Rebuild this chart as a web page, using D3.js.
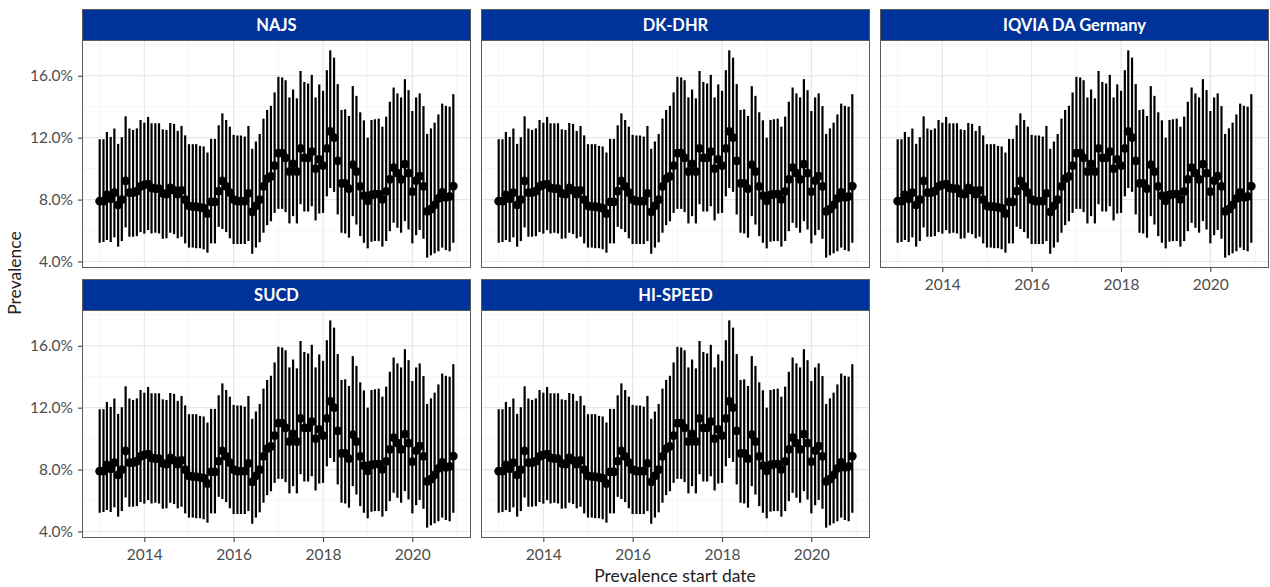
<!DOCTYPE html>
<html>
<head>
<meta charset="utf-8">
<script src="https://cdn.jsdelivr.net/npm/d3@7/dist/d3.min.js"></script>
<style>
body{margin:0;background:#fff;}
svg{display:block;font-family:Lato,"Open Sans",sans-serif;}
</style>
</head>
<body>
<div id="chart"></div>
<script>
// facets, all five show the same monthly series
var facets=['NAJS','DK-DHR','IQVIA DA Germany','SUCD','HI-SPEED'];
var firstMonth='2013-01', nMonths=96;
// prevalence (%) point estimate and interval
var prevMean=[7.9,7.9,8.3,8.05,8.45,7.65,8.0,9.2,8.45,8.45,8.55,8.85,
  8.95,9.0,8.75,8.7,8.7,8.4,8.35,8.75,8.6,8.35,8.6,8.0,
  7.6,7.55,7.55,7.5,7.45,7.1,7.85,7.85,8.55,9.2,8.85,8.45,
  8.0,7.9,7.9,7.9,8.4,7.2,7.6,8.0,8.85,9.35,9.5,10.2,
  11.0,11.0,10.7,9.8,10.3,9.8,11.3,10.7,10.7,11.1,10.0,10.6,
  10.2,11.3,12.4,12.0,10.5,9.05,9.05,8.7,10.25,9.8,8.85,8.25,
  7.92,8.3,8.35,8.35,8.02,8.53,9.3,10.07,9.71,9.3,10.29,9.71,
  8.52,9.22,9.52,8.86,7.24,7.38,7.65,8.07,8.47,8.15,8.2,8.87];
var prevUpper=[11.9,11.9,12.37,12.05,12.59,11.6,12.03,13.38,12.59,12.5,12.6,13.14,
  12.97,13.34,12.93,12.93,12.93,12.54,12.5,12.95,12.89,12.44,12.76,12.15,
  11.58,11.58,11.58,11.47,11.43,11.04,11.92,11.92,12.8,13.57,13.14,12.71,
  12.18,12.14,12.14,12.07,12.76,11.28,11.75,12.24,13.23,13.79,14.06,14.92,
  15.93,15.89,15.71,14.6,15.11,14.54,16.31,15.6,15.5,16.06,14.6,15.44,
  15.03,16.36,17.64,17.17,15.46,13.79,13.83,13.4,15.33,14.7,13.64,13.12,
  12.0,13.14,13.19,13.23,12.71,13.36,14.32,15.24,14.86,14.6,15.78,15.07,
  13.72,14.6,14.86,14.04,12.24,12.6,12.97,13.5,14.2,14.06,14.0,14.81];
var prevLower=[5.21,5.26,5.39,5.26,5.56,4.96,5.32,6.2,5.6,5.6,5.64,5.9,
  5.8,6.03,5.81,5.86,5.81,5.47,5.5,5.86,5.77,5.5,5.6,5.17,
  4.9,4.9,4.86,4.86,4.79,4.57,5.17,5.17,6.24,6.1,5.9,5.5,
  5.13,5.13,5.13,5.13,5.32,4.5,4.9,5.24,5.86,6.35,6.6,7.14,
  7.4,7.4,7.19,6.46,6.93,6.46,7.7,7.23,7.23,7.57,6.65,7.1,
  7.14,8.21,8.75,8.5,7.04,5.86,5.81,5.54,6.93,6.39,5.64,5.21,
  4.85,5.28,5.32,5.32,4.96,5.32,5.96,6.5,6.18,5.86,6.61,6.07,
  5.17,5.7,6.04,5.47,4.25,4.4,4.53,4.66,4.9,4.74,4.66,5.21];
var yTicks=[4,8,12,16], yMinor=[6,10,14,18];
var xTicks=[2014,2016,2018,2020], xMinor=[2013,2015,2017,2019,2021];

var W=1270,H=587;
var colLeft=[82,481,880], panelW=389;
var rowTop=[9,279], stripH=31, plotH=228;
var months=d3.timeMonth.range(d3.timeParse('%Y-%m')(firstMonth),
  d3.timeMonth.offset(d3.timeParse('%Y-%m')(firstMonth),nMonths));
var data=months.map(function(m,i){return {date:m,mean:prevMean[i],lo:prevLower[i],hi:prevUpper[i]};});

// ggplot style 5% expansion
var xr=d3.extent(months), xs=(xr[1]-xr[0])*0.05;
var x=d3.scaleTime().domain([new Date(+xr[0]-xs),new Date(+xr[1]+xs)]).range([0,panelW]);
var ylo=d3.min(prevLower), yhi=d3.max(prevUpper), ys=(yhi-ylo)*0.05;
var y=d3.scaleLinear().domain([ylo-ys,yhi+ys]).range([plotH,0]);
var yr=function(v){return new Date(v,0,1);};

var svg=d3.select('#chart').append('svg').attr('width',W).attr('height',H);

facets.forEach(function(name,i){
  var col=i%3,row=Math.floor(i/3);
  var gx=colLeft[col], gy=rowTop[row];
  var strip=svg.append('g').attr('transform','translate('+gx+','+gy+')');
  strip.append('rect').attr('x',0.5).attr('y',0.5).attr('width',panelW-1).attr('height',stripH)
    .style('fill','#003399').style('stroke','#5a5a5a').style('stroke-width',1);
  strip.append('text').attr('x',panelW/2).attr('y',stripH/2+1).attr('dy','0.35em')
    .attr('text-anchor','middle').style('fill','#fff').style('font-weight','bold')
    .style('font-size','16.5px').text(name);

  var g=svg.append('g').attr('transform','translate('+gx+','+(gy+stripH)+')');
  g.append('rect').attr('width',panelW).attr('height',plotH).style('fill','#fff');
  g.selectAll('.ymin').data(yMinor.filter(function(d){return y(d)>=0;})).enter().append('line')
    .attr('x1',0).attr('x2',panelW).attr('y1',y).attr('y2',y)
    .style('stroke','#f0f0f0').style('stroke-width',0.6);
  g.selectAll('.xmin').data(xMinor).enter().append('line')
    .attr('y1',0).attr('y2',plotH).attr('x1',function(d){return x(yr(d));}).attr('x2',function(d){return x(yr(d));})
    .style('stroke','#f0f0f0').style('stroke-width',0.6);
  g.selectAll('.ymaj').data(yTicks).enter().append('line')
    .attr('x1',0).attr('x2',panelW).attr('y1',y).attr('y2',y)
    .style('stroke','#e6e6e6').style('stroke-width',1.1);
  g.selectAll('.xmaj').data(xTicks).enter().append('line')
    .attr('y1',0).attr('y2',plotH).attr('x1',function(d){return x(yr(d));}).attr('x2',function(d){return x(yr(d));})
    .style('stroke','#e6e6e6').style('stroke-width',1.1);

  g.selectAll('.err').data(data).enter().append('line')
    .attr('x1',function(d){return x(d.date);}).attr('x2',function(d){return x(d.date);})
    .attr('y1',function(d){return y(d.lo);}).attr('y2',function(d){return y(d.hi);})
    .style('stroke','#000').style('stroke-width',2.2);
  g.selectAll('.pt').data(data).enter().append('circle')
    .attr('cx',function(d){return x(d.date);}).attr('cy',function(d){return y(d.mean);})
    .attr('r',4.4).style('fill','#000');

  g.append('rect').attr('x',0.5).attr('y',0.5).attr('width',panelW-1).attr('height',plotH-1)
    .style('fill','none').style('stroke','#5a5a5a').style('stroke-width',1);

  if(col==0){
    var ya=g.append('g').call(d3.axisLeft(y).tickValues(yTicks).tickSize(4).tickPadding(5)
      .tickFormat(function(d){return d.toFixed(1)+'%';}));
    styleAxis(ya);
  }
  var below=i+3<facets.length;
  if(!below){
    var xa=g.append('g').attr('transform','translate(0,'+plotH+')')
      .call(d3.axisBottom(x).tickValues(xTicks.map(yr)).tickSize(4).tickPadding(7)
      .tickFormat(d3.timeFormat('%Y')));
    styleAxis(xa);
  }
});

function styleAxis(a){
  a.select('.domain').remove();
  a.selectAll('line').style('stroke','#333');
  a.selectAll('text').style('fill','#4d4d4d').style('font-size','15.5px')
    .style('font-family','Lato,"Open Sans",sans-serif');
}

svg.append('text').attr('x',675).attr('y',582).attr('text-anchor','middle')
  .style('font-size','17.5px').style('fill','#222').text('Prevalence start date');
svg.append('text').attr('transform','translate(21,273) rotate(-90)').attr('text-anchor','middle')
  .style('font-size','17.5px').style('fill','#222').text('Prevalence');
</script>
</body>
</html>
